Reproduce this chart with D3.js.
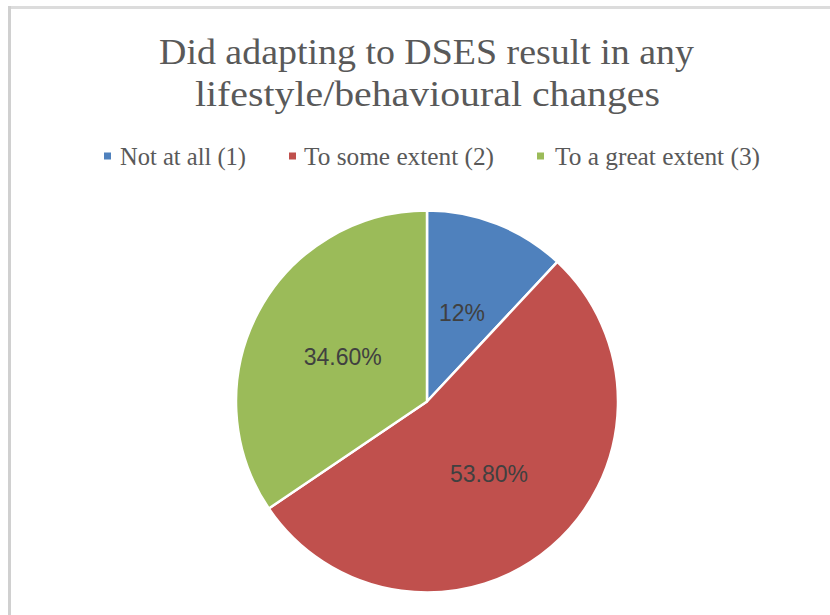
<!DOCTYPE html>
<html>
<head>
<meta charset="utf-8">
<script src="https://cdn.jsdelivr.net/npm/d3@7"></script>
<style>
  html, body { margin: 0; padding: 0; background: #fff; }
  svg { display: block; }
</style>
</head>
<body>
<svg id="chart" width="830" height="615"></svg>
<script>
const titleLines = ["Did adapting to DSES result in any", "lifestyle/behavioural changes"];
const categories = ["Not at all (1)", "To some extent (2)", "To a great extent (3)"];
const values = [12, 53.8, 34.6];
const labels = ["12%", "53.80%", "34.60%"];
const colors = ["#4F81BD", "#C0504D", "#9BBB59"];

const svg = d3.select("#chart");

// frame
svg.append("line").attr("x1", 8).attr("x2", 830).attr("y1", 7.5).attr("y2", 7.5)
  .attr("stroke", "#dcdcdc").attr("stroke-width", 3);
svg.append("line").attr("x1", 9.5).attr("x2", 9.5).attr("y1", 6).attr("y2", 615)
  .attr("stroke", "#d0d0d0").attr("stroke-width", 3);

// title
const titleLayout = [
  { y: 64, x0: 159, x1: 694 },
  { y: 106, x0: 195, x1: 660 }
];
titleLines.forEach((t, i) => {
  const L = titleLayout[i];
  svg.append("text")
    .attr("x", L.x0).attr("y", L.y)
    .attr("textLength", L.x1 - L.x0)
    .attr("lengthAdjust", "spacingAndGlyphs")
    .attr("font-family", "'Liberation Serif', 'DejaVu Serif', serif")
    .attr("font-size", 36)
    .attr("fill", "#595959")
    .text(t);
});

// legend
const legendLayout = [
  { m: 104, x0: 120, x1: 246 },
  { m: 289, x0: 304, x1: 494 },
  { m: 537, x0: 555, x1: 760 }
];
const legend = svg.append("g");
categories.forEach((c, i) => {
  const L = legendLayout[i];
  legend.append("rect").attr("x", L.m).attr("y", 152.5).attr("width", 7).attr("height", 7)
    .attr("fill", colors[i]);
  legend.append("text")
    .attr("x", L.x0).attr("y", 165)
    .attr("textLength", L.x1 - L.x0)
    .attr("lengthAdjust", "spacingAndGlyphs")
    .attr("font-family", "'Liberation Serif', 'DejaVu Serif', serif")
    .attr("font-size", 25)
    .attr("fill", "#595959")
    .text(c);
});

// pie
const cx = 427, cy = 401.5, R = 191;
const pie = d3.pie().sort(null).value(d => d)(values);
const arc = d3.arc().innerRadius(0).outerRadius(R);
const g = svg.append("g").attr("transform", `translate(${cx},${cy})`);
g.selectAll("path").data(pie).enter().append("path")
  .attr("d", arc)
  .attr("fill", (d, i) => colors[i])
  .attr("stroke", "#fff")
  .attr("stroke-width", 2.5)
  .attr("stroke-linejoin", "round");

g.selectAll("text.lbl").data(pie).enter().append("text")
  .attr("class", "lbl")
  .attr("x", d => arc.centroid(d)[0])
  .attr("y", d => arc.centroid(d)[1])
  .attr("dy", "0.35em")
  .attr("text-anchor", "middle")
  .attr("font-family", "'Liberation Sans', Arial, sans-serif")
  .attr("font-size", 23)
  .attr("fill", "#404040")
  .text((d, i) => labels[i]);
</script>
</body>
</html>
